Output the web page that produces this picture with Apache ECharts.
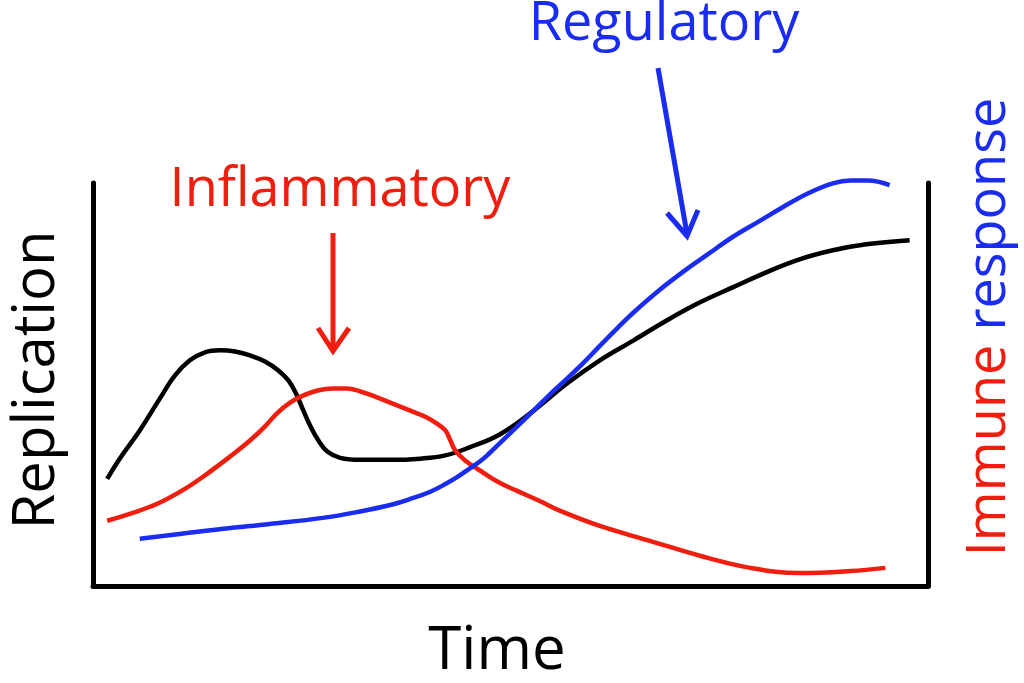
<!DOCTYPE html>
<html><head><meta charset="utf-8">
<script src="https://cdn.jsdelivr.net/npm/echarts@6/dist/echarts.min.js"></script>
<style>html,body{margin:0;padding:0;background:#fff}#c{width:1024px;height:683px}</style>
</head><body><div id="c"></div>
<script>
// Time (0-100) / level (0-100) schematic values
var replicationX = [1.7,3.2,5.6,8.0,9.8,11.6,13.4,15.2,17.0,18.8,20.6,22.2,23.4,24.3,25.2,26.0,27.0,28.1,29.6,32.0,35.6,39.2,42.2,45.1,48.7,52.7,56.8,60.7,64.7,68.7,72.7,76.6,80.7,84.7,88.6,92.6,97.8];
var replicationY = [26.6,31.6,38.6,46.5,52.2,56.0,58.0,58.5,58.2,57.2,55.7,53.5,51.0,47.8,43.5,39.8,36.1,33.3,31.8,31.3,31.3,31.6,32.4,34.4,37.6,43.4,50.3,56.0,60.9,65.9,70.4,74.1,77.9,81.1,83.3,84.8,85.8];
var inflammatoryX = [1.7,4.4,7.7,11.0,13.7,16.4,18.8,20.6,22.0,23.6,25.2,26.9,28.7,30.4,32.0,33.8,35.6,38.0,39.8,41.2,42.2,42.8,43.4,44.6,46.4,48.7,50.8,53.5,55.9,60.7,66.7,72.7,78.7,84.7,90.7,94.9];
var inflammatoryY = [16.2,17.9,20.4,24.1,27.9,32.1,36.1,39.6,42.8,45.5,47.3,48.5,49.0,49.0,48.3,47.0,45.5,43.5,42.0,40.3,38.6,36.1,33.6,31.1,28.6,25.6,23.6,21.1,18.7,14.9,11.2,7.5,4.5,3.2,3.7,4.5];
var regulatoryX = [5.6,10.4,15.6,21.2,27.5,32.0,35.6,38.0,40.4,42.2,43.6,44.8,46.4,47.5,48.7,50.5,52.7,54.7,56.8,58.7,60.7,62.8,64.7,67.7,70.7,73.7,76.6,79.6,82.6,85.6,88.6,90.7,92.8,95.4];
var regulatoryY = [11.7,12.9,14.2,15.4,16.9,18.5,20.1,21.6,23.4,25.3,27.0,28.7,31.0,33.0,35.4,39.0,43.4,47.5,51.5,55.3,59.6,64.0,67.8,73.2,78.0,82.4,86.6,90.3,94.0,97.4,99.9,100.6,100.6,99.5];

var xTitle = 'Time', yTitle = 'Replication';
var labelInfl = 'Inflammatory', labelReg = 'Regulatory';

function zip(xs, ys){ return xs.map(function(x,i){ return [x, ys[i]]; }); }

var FONT = '"Open Sans", Lato, sans-serif';
var chart = echarts.init(document.getElementById('c'));
var axisCommon = {
  type: 'value', min: 0, max: 100,
  axisLine: {show: true, onZero: false, lineStyle: {color: '#000', width: 5}},
  axisTick: {show: false}, axisLabel: {show: false}, splitLine: {show: false}
};
chart.setOption({
  animation: false,
  backgroundColor: '#fff',
  grid: {left: 93, right: 96, top: 183, bottom: 97},
  xAxis: Object.assign({}, axisCommon),
  yAxis: [Object.assign({position: 'left'}, axisCommon), Object.assign({position: 'right'}, axisCommon)],
  series: [
    {type: 'line', data: zip(replicationX, replicationY), smooth: 0.4, symbol: 'none', clip: false,
     lineStyle: {color: '#000', width: 4.5}},
    {type: 'line', data: zip(inflammatoryX, inflammatoryY), smooth: 0.4, symbol: 'none', clip: false,
     lineStyle: {color: '#f01e0e', width: 4.5}},
    {type: 'line', data: zip(regulatoryX, regulatoryY), smooth: 0.4, symbol: 'none', clip: false,
     lineStyle: {color: '#1a2cf0', width: 4.5}}
  ],
  graphic: [
    {type: 'text', x: 37, y: 380, rotation: Math.PI/2,
     style: {text: yTitle, font: '58px ' + FONT, fill: '#000', align: 'center', verticalAlign: 'middle'}},
    {type: 'text', x: 497, y: 652,
     style: {text: xTitle, font: '60px ' + FONT, fill: '#000', align: 'center', verticalAlign: 'middle'}},
    {type: 'text', x: 990, y: 327, rotation: Math.PI/2,
     style: {text: '{a|Immune }{b|response}', align: 'center', verticalAlign: 'middle',
       rich: {a: {font: '54px ' + FONT, fill: '#f01e0e'}, b: {font: '54px ' + FONT, fill: '#1a2cf0'}}}},
    {type: 'text', x: 340, y: 191,
     style: {text: labelInfl, font: '54px ' + FONT, fill: '#f01e0e', align: 'center', verticalAlign: 'middle'}},
    {type: 'text', x: 664, y: 25,
     style: {text: labelReg, font: '54px ' + FONT, fill: '#1a2cf0', align: 'center', verticalAlign: 'middle'}},
    // arrows
    {type: 'line', shape: {x1: 333, y1: 233, x2: 333, y2: 350}, style: {stroke: '#f01e0e', lineWidth: 5}},
    {type: 'polyline', shape: {points: [[318, 328], [333, 351], [349, 328]]}, style: {stroke: '#f01e0e', lineWidth: 5, fill: null}},
    {type: 'line', shape: {x1: 658, y1: 68, x2: 687, y2: 234}, style: {stroke: '#1a2cf0', lineWidth: 5}},
    {type: 'polyline', shape: {points: [[667, 213], [687, 236], [698, 210]]}, style: {stroke: '#1a2cf0', lineWidth: 5, fill: null}}
  ]
});
</script></body></html>
